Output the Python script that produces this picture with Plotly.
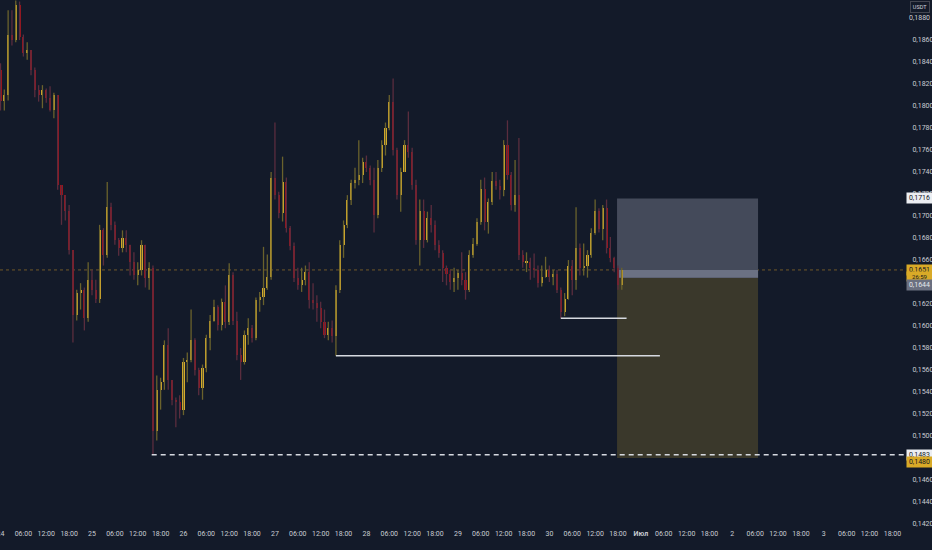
import plotly.graph_objects as go
import pandas as pd

# hourly candles, USDT pair, from 24 June 00:00
start = "2024-06-24 00:00"
first_open = 0.1833

close = [0.1805, 0.1810, 0.1865, 0.1860, 0.1892, 0.1863, 0.1848, 0.1851, 0.1833, 0.1815,
         0.1810, 0.1815, 0.1807, 0.1796, 0.1810, 0.1728, 0.1719, 0.1705, 0.1669, 0.1610,
         0.1630, 0.1633, 0.1607, 0.1642, 0.1633, 0.1625, 0.1687, 0.1665, 0.1708, 0.1692,
         0.1678, 0.1671, 0.1680, 0.1674, 0.1658, 0.1646, 0.1651, 0.1674, 0.1644, 0.1653,
         0.1505, 0.1542, 0.1549, 0.1583, 0.1551, 0.1533, 0.1531, 0.1524, 0.1567, 0.1569,
         0.1587, 0.1560, 0.1544, 0.1562, 0.1589, 0.1605, 0.1617, 0.1601, 0.1622, 0.1604,
         0.1646, 0.1605, 0.1574, 0.1567, 0.1592, 0.1598, 0.1589, 0.1624, 0.1626, 0.1635,
         0.1645, 0.1735, 0.1719, 0.1703, 0.1731, 0.1689, 0.1673, 0.1644, 0.1637, 0.1642,
         0.1649, 0.1624, 0.1621, 0.1616, 0.1604, 0.1592, 0.1598, 0.1591, 0.1633, 0.1674,
         0.1692, 0.1715, 0.1730, 0.1733, 0.1737, 0.1749, 0.1744, 0.1733, 0.1701, 0.1744,
         0.1765, 0.1780, 0.1804, 0.1760, 0.1719, 0.1740, 0.1765, 0.1758, 0.1728, 0.1678,
         0.1705, 0.1678, 0.1698, 0.1692, 0.1674, 0.1666, 0.1653, 0.1647, 0.1640, 0.1644,
         0.1648, 0.1642, 0.1633, 0.1665, 0.1675, 0.1695, 0.1725, 0.1695, 0.1713, 0.1732,
         0.1727, 0.1724, 0.1765, 0.1737, 0.1710, 0.1719, 0.1665, 0.1658, 0.1658, 0.1653,
         0.1651, 0.1639, 0.1645, 0.1651, 0.1645, 0.1647, 0.1633, 0.1613, 0.1625, 0.1655,
         0.1642, 0.1671, 0.1653, 0.1655, 0.1665, 0.1685, 0.1705, 0.1688, 0.1707, 0.1671,
         0.1662, 0.1653, 0.1637, 0.1651]

high = [0.1839, 0.1815, 0.1887, 0.1887, 0.1896, 0.1895, 0.1865, 0.1858, 0.1851, 0.1835,
        0.1819, 0.1819, 0.1816, 0.1818, 0.1812, 0.1810, 0.1728, 0.1719, 0.1710, 0.1669,
        0.1633, 0.1639, 0.1635, 0.1658, 0.1651, 0.1642, 0.1692, 0.1689, 0.1731, 0.1712,
        0.1695, 0.1680, 0.1687, 0.1687, 0.1674, 0.1667, 0.1658, 0.1678, 0.1674, 0.1658,
        0.1655, 0.1555, 0.1553, 0.1587, 0.1598, 0.1551, 0.1535, 0.1537, 0.1571, 0.1576,
        0.1615, 0.1589, 0.1562, 0.1565, 0.1592, 0.1610, 0.1624, 0.1619, 0.1625, 0.1637,
        0.1657, 0.1649, 0.1613, 0.1580, 0.1596, 0.1607, 0.1601, 0.1626, 0.1631, 0.1672,
        0.1665, 0.1740, 0.1785, 0.1722, 0.1754, 0.1735, 0.1691, 0.1676, 0.1653, 0.1653,
        0.1655, 0.1658, 0.1639, 0.1628, 0.1622, 0.1615, 0.1604, 0.1605, 0.1637, 0.1678,
        0.1696, 0.1719, 0.1733, 0.1744, 0.1769, 0.1753, 0.1755, 0.1746, 0.1744, 0.1751,
        0.1769, 0.1785, 0.1810, 0.1825, 0.1762, 0.1744, 0.1769, 0.1795, 0.1762, 0.1733,
        0.1715, 0.1715, 0.1704, 0.1710, 0.1696, 0.1678, 0.1669, 0.1655, 0.1651, 0.1653,
        0.1651, 0.1667, 0.1649, 0.1669, 0.1680, 0.1698, 0.1733, 0.1735, 0.1716, 0.1740,
        0.1740, 0.1733, 0.1769, 0.1787, 0.1740, 0.1751, 0.1771, 0.1669, 0.1667, 0.1662,
        0.1666, 0.1655, 0.1655, 0.1663, 0.1655, 0.1651, 0.1651, 0.1635, 0.1630, 0.1660,
        0.1660, 0.1708, 0.1675, 0.1675, 0.1669, 0.1689, 0.1715, 0.1707, 0.1710, 0.1715,
        0.1681, 0.1663, 0.1655, 0.1653]

low = [0.1796, 0.1796, 0.1805, 0.1855, 0.1858, 0.1860, 0.1845, 0.1842, 0.1828, 0.1808,
       0.1804, 0.1798, 0.1803, 0.1795, 0.1789, 0.1724, 0.1692, 0.1696, 0.1665, 0.1585,
       0.1605, 0.1615, 0.1596, 0.1604, 0.1628, 0.1621, 0.1621, 0.1655, 0.1662, 0.1687,
       0.1674, 0.1664, 0.1667, 0.1667, 0.1646, 0.1642, 0.1637, 0.1646, 0.1635, 0.1633,
       0.1483, 0.1496, 0.1524, 0.1542, 0.1542, 0.1528, 0.1508, 0.1516, 0.1519, 0.1549,
       0.1567, 0.1555, 0.1537, 0.1533, 0.1558, 0.1578, 0.1604, 0.1596, 0.1596, 0.1598,
       0.1601, 0.1601, 0.1569, 0.1551, 0.1565, 0.1583, 0.1585, 0.1587, 0.1613, 0.1619,
       0.1633, 0.1642, 0.1715, 0.1698, 0.1695, 0.1685, 0.1669, 0.1640, 0.1633, 0.1631,
       0.1637, 0.1616, 0.1615, 0.1604, 0.1598, 0.1589, 0.1587, 0.1585, 0.1573, 0.1630,
       0.1662, 0.1689, 0.1710, 0.1725, 0.1728, 0.1730, 0.1740, 0.1728, 0.1685, 0.1698,
       0.1740, 0.1755, 0.1778, 0.1755, 0.1715, 0.1704, 0.1740, 0.1753, 0.1724, 0.1674,
       0.1655, 0.1671, 0.1676, 0.1685, 0.1669, 0.1662, 0.1640, 0.1637, 0.1633, 0.1631,
       0.1633, 0.1637, 0.1624, 0.1631, 0.1662, 0.1673, 0.1692, 0.1687, 0.1684, 0.1710,
       0.1724, 0.1715, 0.1718, 0.1733, 0.1705, 0.1704, 0.1660, 0.1653, 0.1649, 0.1642,
       0.1644, 0.1635, 0.1636, 0.1644, 0.1640, 0.1637, 0.1630, 0.1607, 0.1609, 0.1624,
       0.1628, 0.1633, 0.1646, 0.1646, 0.1644, 0.1662, 0.1683, 0.1685, 0.1678, 0.1666,
       0.1658, 0.1649, 0.1633, 0.1633]

# drawings on the chart
current_price = 0.1651
countdown = "26:59"
entry, stop, target = 0.1644, 0.1716, 0.1480
pos_start, pos_end = "2024-06-30 17:45", "2024-07-02 06:45"
low_line = 0.1483
low_line_start = "2024-06-25 15:40"
rays = [(0.1573, "2024-06-27 16:00", "2024-07-01 05:00"),
        (0.1607, "2024-06-30 03:00", "2024-06-30 20:15")]

price_ticks = [round(0.1420 + 0.002 * i, 4) for i in range(24)]
top_tick = price_ticks[-1]  # written as an annotation, the axis drops it at the top edge

BG = "#131a29"
UP, DOWN = "#e2b42e", "#a0121a"
UP_WICK, DOWN_WICK = "#6a622c", "#5a2d3e"
TXT = "#c9ccd3"
GOLD = "#d9aa27"

times = pd.date_range(start, periods=len(close), freq="h")
opens = [first_open] + close[:-1]

fig = go.Figure()

for up, col in [(True, UP_WICK), (False, DOWN_WICK)]:
    wx, wy = [], []
    for t, o, c, h, l in zip(times, opens, close, high, low):
        if (c >= o) == up:
            wx += [t, t, None]
            wy += [min(l, o, c), max(h, o, c), None]
    fig.add_trace(go.Scatter(x=wx, y=wy, mode="lines", line=dict(color=col, width=1.3),
                             hoverinfo="skip", showlegend=False))

base = [min(o, c) for o, c in zip(opens, close)]
size = [max(abs(c - o), 0.00005) for o, c in zip(opens, close)]
cols = [UP if c >= o else DOWN for o, c in zip(opens, close)]
fig.add_trace(go.Bar(x=times, y=size, base=base, width=0.55 * 3600 * 1000,
                     marker=dict(color=cols, line=dict(width=0)), showlegend=False))

# long/short position tool
fig.add_shape(type="rect", x0=pos_start, x1=pos_end, y0=entry, y1=stop,
              fillcolor="#444a5a", line=dict(width=0), layer="below")
fig.add_shape(type="rect", x0=pos_start, x1=pos_end, y0=target, y1=entry,
              fillcolor="#3a382b", line=dict(width=0), layer="below")
fig.add_shape(type="rect", x0=pos_start, x1=pos_end, y0=entry, y1=current_price,
              fillcolor="#6b7183", line=dict(width=0), layer="below")

fig.add_shape(type="line", xref="paper", x0=0, x1=1, y0=current_price, y1=current_price,
              line=dict(color="rgba(190,140,40,0.55)", width=1, dash="dot"), layer="below")
fig.add_shape(type="line", xref="x", x0=low_line_start, x1=times[-1] + pd.Timedelta(hours=80),
              y0=low_line, y1=low_line, line=dict(color="#d6d9e0", width=1.5, dash="5px,4px"))
for price, t0, t1 in rays:
    fig.add_shape(type="line", x0=t0, x1=t1, y0=price, y1=price,
                  line=dict(color="#d6d9e0", width=1.5))

# x ticks every 6 hours
tick_times = pd.date_range("2024-06-24", "2024-07-03 18:00", freq="6h")
tick_text = []
for t in tick_times:
    if t.hour == 0:
        tick_text.append("<b>Июл</b>" if (t.month == 7 and t.day == 1) else str(t.day))
    else:
        tick_text.append(t.strftime("%H:%M"))

W, H = 932, 550
ML, MR, MT, MB = 0, 27, 0, 22
plot_w = W - ML - MR


def px(x):
    return (x - ML) / plot_w


def fmt(v):
    return "{:.4f}".format(v).replace(".", ",")


label_x = px(919)
labels = [
    (fmt(stop), stop, "#eceef2", "#131722", 7, 0),
    (fmt(current_price), current_price, GOLD, "#131722", 7, 0),
    (countdown, current_price, GOLD, "#131722", 6, -6.5),
    (fmt(entry), entry, "#6b7080", "#e6e8ec", 7, -7.5),
    (fmt(low_line), low_line, "#eceef2", "#131722", 7, 0),
    (fmt(target), target, GOLD, "#131722", 7, -4),
]
for text, yv, bg, fc, fs, shift in labels:
    fig.add_annotation(x=label_x, xref="paper", y=yv, yref="y", text=text, showarrow=False,
                       xanchor="center", yanchor="middle", yshift=shift, bgcolor=bg,
                       font=dict(size=fs, color=fc, family="Roboto"), borderpad=1, width=23)

fig.add_annotation(x=label_x + 1 / plot_w, xref="paper", y=1 - 7.5 / (H - MT - MB), yref="paper",
                   text="USDT", showarrow=False, xanchor="center", yanchor="middle", bgcolor=BG,
                   bordercolor="#434651", borderwidth=1, borderpad=1, width=16, height=8,
                   font=dict(size=5.5, color="#d1d4dc", family="Roboto"))

fig.add_annotation(x=label_x, xref="paper", y=top_tick, yref="y", text=fmt(top_tick),
                   showarrow=False, xanchor="center", yanchor="middle", borderpad=0,
                   font=dict(size=7, color=TXT, family="Roboto"))

fig.update_layout(
    width=W, height=H,
    margin=dict(l=ML, r=MR, t=MT, b=MB),
    paper_bgcolor=BG, plot_bgcolor=BG,
    barmode="overlay", bargap=0, showlegend=False,
    xaxis=dict(type="date", range=[pd.Timestamp(start) - pd.Timedelta(minutes=8), "2024-07-03 21:18"],
               tickvals=tick_times, ticktext=tick_text, showgrid=False, zeroline=False,
               showline=False, ticks="", automargin=False, ticklabeloverflow="allow",
               tickfont=dict(size=7, color=TXT, family="Roboto")),
    yaxis=dict(side="right", range=[0.14164, 0.18964], tickvals=price_ticks[:-1],
               ticktext=[fmt(v) for v in price_ticks[:-1]], showgrid=False, zeroline=False,
               showline=False, ticks="outside", ticklen=5, tickcolor=BG, automargin=False,
               ticklabeloverflow="allow",
               tickfont=dict(size=7, color=TXT, family="Roboto")),
)

fig.write_html("out.html", config={"displayModeBar": False},
               post_script="document.body.style.margin='0';document.body.style.background='#131a29';")
